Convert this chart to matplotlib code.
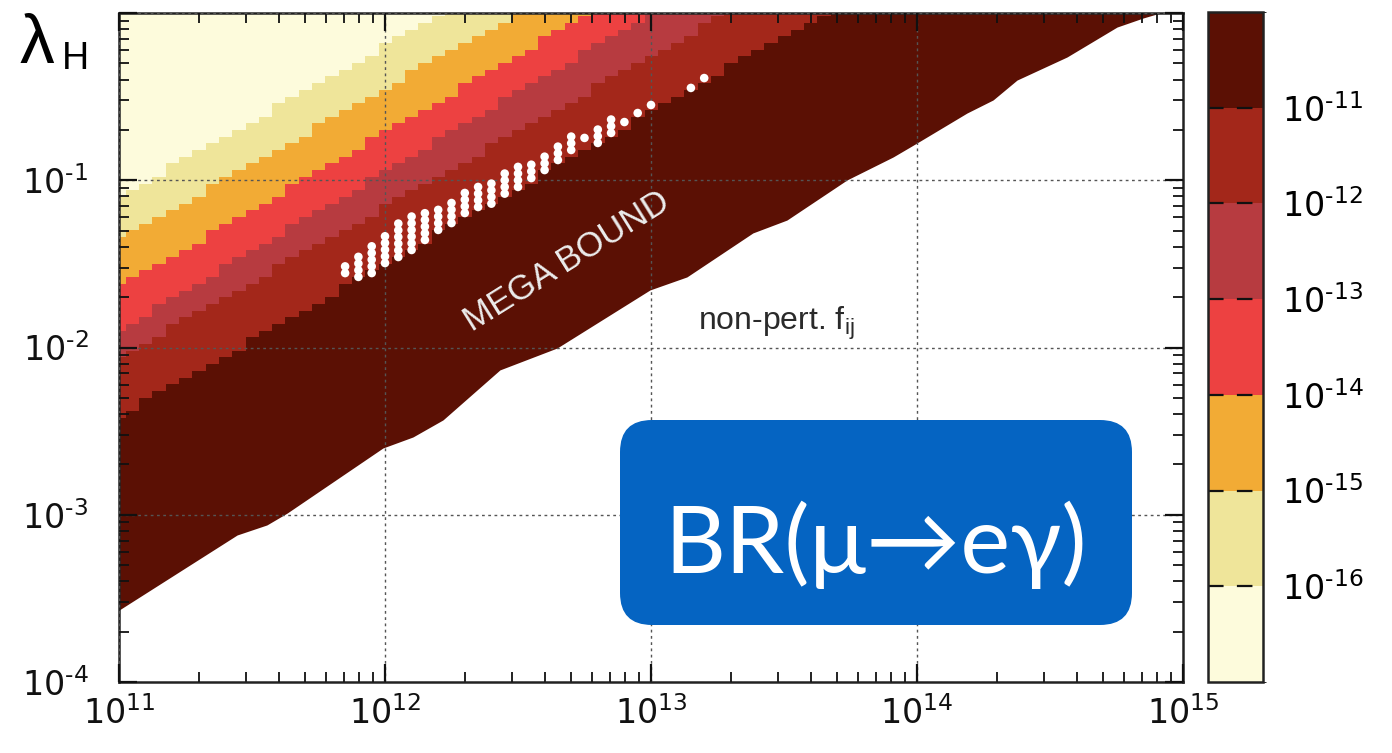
import numpy as np
import matplotlib
matplotlib.use("Agg")
import matplotlib.pyplot as plt
from matplotlib.colors import ListedColormap, BoundaryNorm
from matplotlib.cm import ScalarMappable
from matplotlib.patches import FancyBboxPatch
from matplotlib.transforms import IdentityTransform
from matplotlib.ticker import NullFormatter

plt.rcParams['font.family'] = ['Liberation Sans Narrow', 'Liberation Sans', 'DejaVu Sans']
plt.rcParams['mathtext.fontset'] = 'custom'
plt.rcParams['mathtext.rm'] = 'Liberation Sans Narrow'
plt.rcParams['mathtext.it'] = 'Liberation Sans Narrow'
plt.rcParams['mathtext.default'] = 'rm'

HY = '\u2010'  # short hyphen used in the exponents

# ---- BR(mu -> e gamma) levels and band colours (lowest BR first) ----
BR_LEVELS = [1e-16, 1e-15, 1e-14, 1e-13, 1e-12, 1e-11]
BR_LEVEL_LABELS = [f'$10^{{{HY}16}}$', f'$10^{{{HY}15}}$', f'$10^{{{HY}14}}$',
                   f'$10^{{{HY}13}}$', f'$10^{{{HY}12}}$', f'$10^{{{HY}11}}$']
BAND_COLORS = ['#fdfbdc', '#efe59a', '#f2ab35', '#ed4141',
               '#b73b40', '#a3271a', '#5b1004']

# Iso-BR contours, 1e-16 ... 1e-11:
# log10(lambda_H) at M = 1e11 GeV, and log10(M) where the contour reaches lambda_H = 1
ISO_LOGLAM_AT_M11 = [-1.100, -1.357, -1.638, -1.895, -2.057, -2.410]
ISO_LOGM_AT_LAM1 = [12.218, 12.496, 12.771, 12.996, 13.286, 13.650]

# Edge of the perturbative region (below it: non-perturbative f_ij)
EDGE_LOGM = [11.00, 11.444, 11.556, 11.632, 11.992, 12.105, 12.218, 12.432,
             12.647, 12.996, 13.135, 13.383, 13.511, 13.737, 13.910, 14.000,
             14.188, 14.286, 14.376, 14.564, 14.752, 14.850, 14.914, 15.00]
EDGE_LOGLAM = [-3.570, -3.121, -3.061, -2.990, -2.601, -2.535, -2.433, -2.134,
               -2.003, -1.656, -1.578, -1.315, -1.238, -0.998, -0.861, -0.777,
               -0.598, -0.520, -0.401, -0.263, -0.084, -0.030, 0.000, 0.000]

# Points compatible with the MEGA bound: column log10(M), lowest log10(lambda_H), number of points
DOT_LOGM = [11.85, 11.90, 11.95, 12.00, 12.05, 12.10, 12.15, 12.20, 12.25,
            12.30, 12.35, 12.40, 12.45, 12.50, 12.55, 12.60, 12.65, 12.70,
            12.75, 12.80, 12.85, 12.90, 12.95, 13.00, 13.15, 13.20]
DOT_LOGLAM_LOW = [-1.555, -1.578, -1.555, -1.495, -1.459, -1.417, -1.357, -1.297,
                  -1.256, -1.196, -1.160, -1.140, -1.080, -1.040, -0.987, -0.939,
                  -0.879, -0.819, -0.747, -0.777, -0.717, -0.652, -0.598, -0.550,
                  -0.448, -0.389]
DOT_COUNT = [2, 4, 5, 5, 6, 6, 5, 4, 4, 4, 4, 4, 4, 4, 3, 3, 3, 3, 1, 3, 3, 1, 1, 1, 1, 1]
DOT_STEP = 0.04  # scan spacing in log10(lambda_H)

X_TICKS = [1e11, 1e12, 1e13, 1e14, 1e15]
X_TICK_LABELS = [r'$10^{11}$', r'$10^{12}$', r'$10^{13}$', r'$10^{14}$', r'$10^{15}$']
Y_TICKS = [1e-4, 1e-3, 1e-2, 1e-1, 1e0]
Y_TICK_LABELS = [f'$10^{{{HY}4}}$', f'$10^{{{HY}3}}$', f'$10^{{{HY}2}}$',
                 f'$10^{{{HY}1}}$', '']

W, H = 1392, 753
fig = plt.figure(figsize=(W / 100, H / 100), dpi=100)
fig.patch.set_facecolor('white')

ax = fig.add_axes([119 / W, (H - 682) / H, (1183 - 119) / W, (682 - 13) / H])
ax.set_xscale('log')
ax.set_yscale('log')

# scan grid (20 points per decade in M, 25 per decade in lambda_H)
lm_c = np.linspace(11, 15, 81)
ll_c = np.linspace(-4, 0, 101)
LM, LL = np.meshgrid(lm_c, ll_c)
level = np.zeros(LM.shape, dtype=int)
for a, m in zip(ISO_LOGLAM_AT_M11, ISO_LOGM_AT_LAM1):
    contour = a * (1 - (LM - 11) / (m - 11))
    level += (LL < contour)
br = 10.0 ** (-16.5 + level)

bounds = [1e-17] + BR_LEVELS + [1e-10]
cmap = ListedColormap(BAND_COLORS)
norm = BoundaryNorm(bounds, cmap.N)

ax.pcolormesh(10 ** lm_c, 10 ** ll_c, br, cmap=cmap, norm=norm,
              shading='nearest', antialiased=False, edgecolors='none', zorder=1)

# non-perturbative region
ax.fill_between(10 ** np.array(EDGE_LOGM), 1e-4, 10 ** np.array(EDGE_LOGLAM),
                color='white', lw=0, zorder=1.5)

# allowed points
dot_x, dot_y = [], []
for lm, lo, n in zip(DOT_LOGM, DOT_LOGLAM_LOW, DOT_COUNT):
    for k in range(n):
        dot_x.append(10 ** lm)
        dot_y.append(10 ** (lo + k * DOT_STEP))
ax.scatter(dot_x, dot_y, s=38, color='white', edgecolors='none', zorder=3)

ax.set_xlim(1e11, 1e15)
ax.set_ylim(1e-4, 1)
ax.set_xticks(X_TICKS, labels=X_TICK_LABELS)
ax.set_yticks(Y_TICKS, labels=Y_TICK_LABELS)
ax.xaxis.set_minor_formatter(NullFormatter())
ax.yaxis.set_minor_formatter(NullFormatter())
ax.set_axisbelow(False)
ax.grid(True, which='major', color='#555555', ls=(0, (2, 2.5)), lw=1.0)
ax.tick_params(which='both', direction='in', top=True, right=True, colors='#111111')
ax.tick_params(which='major', length=13, width=1.6, labelsize=24)
ax.tick_params(axis='x', which='major', pad=10)
ax.tick_params(axis='y', which='major', pad=22)
ax.tick_params(which='minor', length=7, width=1.3)
for sp in ax.spines.values():
    sp.set_linewidth(1.8)
    sp.set_color('#222222')

# colour bar
cax = fig.add_axes([1208 / W, (H - 682) / H, 55 / W, (682 - 12) / H])
cb = fig.colorbar(ScalarMappable(norm=norm, cmap=cmap), cax=cax, ticks=BR_LEVELS)
cb.ax.set_yticklabels(BR_LEVEL_LABELS)
cb.ax.tick_params(length=0, labelsize=24, pad=14)
cb.outline.set_linewidth(1.8)
cb.outline.set_edgecolor('#222222')
for b in BR_LEVELS:
    cax.axhline(b, color='#111111', lw=1.6, ls=(0, (7, 6)))

# annotations
fig.text(567 / W, 1 - 262 / H, 'MEGA BOUND', rotation=32, ha='center', va='center',
         rotation_mode='anchor', color='#ececec', fontsize=25, family='Liberation Sans')
fig.text(698 / W, 1 - 330 / H, r'non-pert. f$_{\mathregular{ij}}$', fontsize=23,
         color='#2a2a2a', va='baseline', family='Liberation Sans')

fig.text(20 / W, 1 - 63 / H, 'λ', fontsize=50, va='baseline', family='Liberation Sans')
fig.text(62 / W, 1 - 69 / H, 'H', fontsize=27, va='baseline', family='Liberation Sans')

box = FancyBboxPatch((620, H - 625), 512, 205, boxstyle='round,pad=0,rounding_size=32',
                     transform=IdentityTransform(), facecolor='#0564c2', edgecolor='none')
fig.add_artist(box)
fig.text(876 / W, 1 - 545 / H, 'BR(μ→eγ)', color='white', fontsize=68,
         ha='center', va='center', family=['Lato', 'DejaVu Sans'])

fig.savefig('out.png', dpi=100, facecolor='white')
